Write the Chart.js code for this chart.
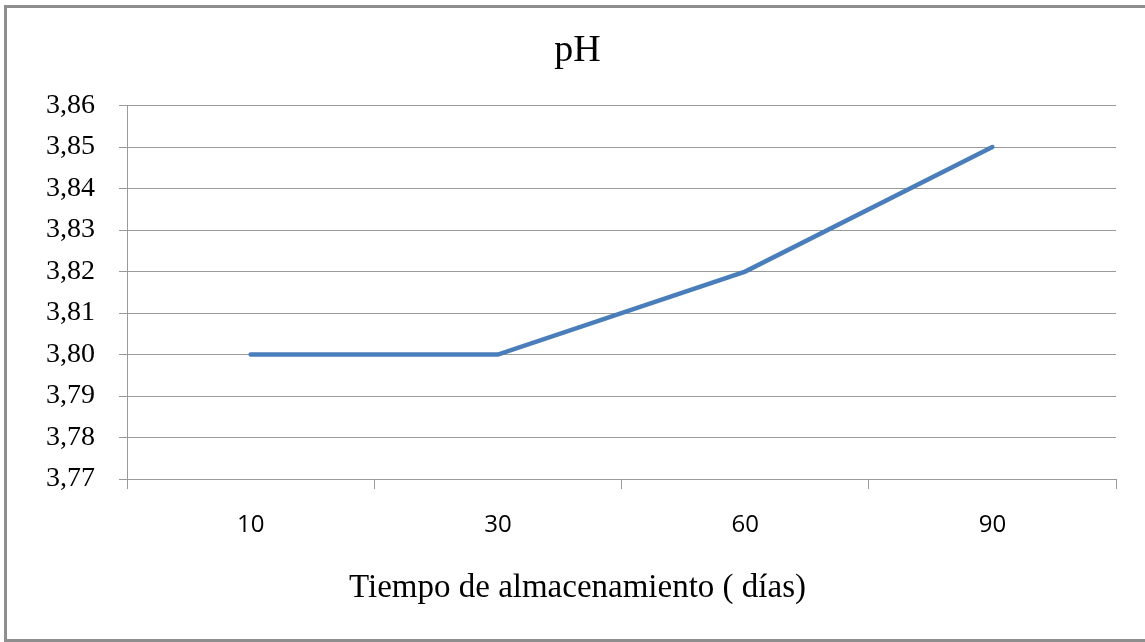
<!DOCTYPE html>
<html>
<head>
<meta charset="utf-8">
<script src="https://cdn.jsdelivr.net/npm/chart.js@4"></script>
<style>
  body { margin: 0; overflow: hidden; background: #fff; }
  #wrap { position: absolute; left: 0; top: 0; width: 1145px; height: 642px; }
  #frame {
    position: absolute; left: 4px; top: 5px; width: 1200px; height: 637px;
    box-sizing: border-box; border: 3px solid #8e8e8e; pointer-events: none;
  }
</style>
</head>
<body>
<div id="wrap">
  <canvas id="myChart" width="1145" height="642"></canvas>
  <div id="frame"></div>
</div>
<script>
const dias = ["10", "30", "60", "90"];
const phValues = [3.80, 3.80, 3.82, 3.85];
const yMin = 3.77;
const yMax = 3.86;
const yStep = 0.01;

const gridGray = "#9a9a9a";
const serif = "'Liberation Serif', 'Times New Roman', serif";

new Chart("myChart", {
  type: "line",
  data: {
    labels: dias,
    datasets: [{
      data: phValues,
      borderColor: "#4a7ebb",
      borderWidth: 4.5,
      borderCapStyle: "round",
      pointRadius: 0,
      tension: 0,
      fill: false
    }]
  },
  options: {
    responsive: false,
    animation: false,
    layout: { padding: { left: 10, right: 0, top: 0, bottom: 0 } },
    plugins: {
      legend: { display: false },
      tooltip: { enabled: false },
      title: {
        display: true,
        text: "pH",
        color: "#000",
        font: { family: serif, size: 38, weight: "normal" },
        padding: { top: 28, bottom: 32 }
      },
      // x axis caption, centred on the whole chart like in the original
      subtitle: {
        display: true,
        position: "bottom",
        text: "Tiempo de almacenamiento ( días)",
        color: "#000",
        font: { family: serif, size: 33 },
        padding: { top: 0, bottom: 34 }
      }
    },
    scales: {
      x: {
        offset: true,
        grid: { display: true, offset: true, drawOnChartArea: false, tickLength: 10, color: gridGray },
        border: { color: gridGray },
        ticks: {
          color: "#000",
          padding: 22,
          font: { family: "'Open Sans', sans-serif", size: 24 }
        },
        afterFit: s => { s.height = 163 - 73.6; }
      },
      y: {
        min: yMin,
        max: yMax,
        grid: { color: gridGray, tickLength: 8 },
        border: { color: gridGray },
        ticks: {
          stepSize: yStep,
          color: "#000",
          padding: 24,
          font: { family: serif, size: 28 },
          callback: v => v.toFixed(2).replace(".", ",")
        },
        afterFit: s => { s.width = 117; }
      },
      // empty strip on the right so the plot ends where the original does
      yRight: {
        position: "right",
        display: true,
        grid: { display: false },
        border: { display: false },
        ticks: { display: false },
        afterFit: s => { s.width = 29; }
      }
    }
  }
});
</script>
</body>
</html>
